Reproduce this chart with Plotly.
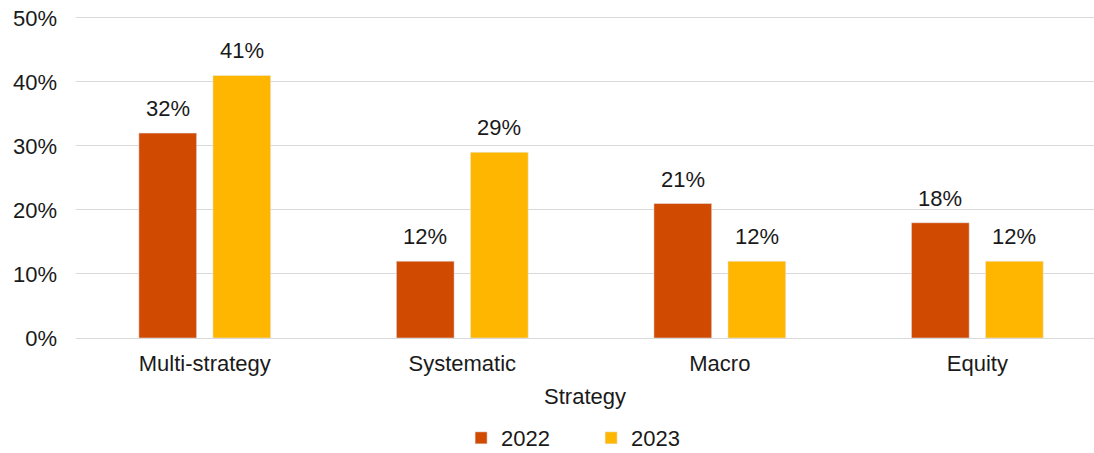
import plotly.graph_objects as go

strategies = ["Multi-strategy", "Systematic", "Macro", "Equity"]
share_2022 = [32, 12, 21, 18]
share_2023 = [41, 29, 12, 12]
y_ticks = [0, 10, 20, 30, 40, 50]

FONT = "Liberation Sans, Arial, sans-serif"
ORANGE = "#D04A02"
YELLOW = "#FFB600"
TXT = "#1a1a1a"

fig = go.Figure()
fig.add_trace(go.Bar(x=strategies, y=share_2022, name="2022", marker_color=ORANGE))
fig.add_trace(go.Bar(x=strategies, y=share_2023, name="2023", marker_color=YELLOW))

# value labels above the bars
for vals, shift in [(share_2022, -37), (share_2023, 37)]:
    for cat, v in zip(strategies, vals):
        fig.add_annotation(x=cat, y=v, text=f"{v}%", showarrow=False,
                           xshift=shift, yshift=10, yanchor="bottom",
                           font=dict(family=FONT, size=22, color=TXT))

fig.update_layout(
    width=1094, height=453,
    margin=dict(l=76, r=0, t=14, b=115),
    plot_bgcolor="white", paper_bgcolor="white",
    barmode="group", bargap=0.425, bargroupgap=0.22,
    font=dict(family=FONT, size=22, color=TXT),
    showlegend=True,
    legend=dict(orientation="h", x=0.506, xanchor="center",
                yref="container", y=0.033, yanchor="middle",
                font=dict(size=22), entrywidth=85, itemwidth=30),
    xaxis=dict(range=[-0.5, 3.453], showgrid=False, showline=True,
               linecolor="#d9d9d9", linewidth=1, ticks="", automargin=False,
               ticklabelstandoff=6,
               title=dict(text="Strategy", standoff=13, font=dict(size=22))),
    yaxis=dict(range=[0, 50.6], tickvals=y_ticks, automargin=False,
               ticktext=[f"{t}%" for t in y_ticks],
               gridcolor="#d9d9d9", zeroline=False, ticks="",
               ticklabeloverflow="allow", ticklabelstandoff=18),
)

# drop the default 8px page margin so the figure fills the window exactly
fig.write_html("out.html", config={"displayModeBar": False},
               post_script="document.body.style.margin='0';")
